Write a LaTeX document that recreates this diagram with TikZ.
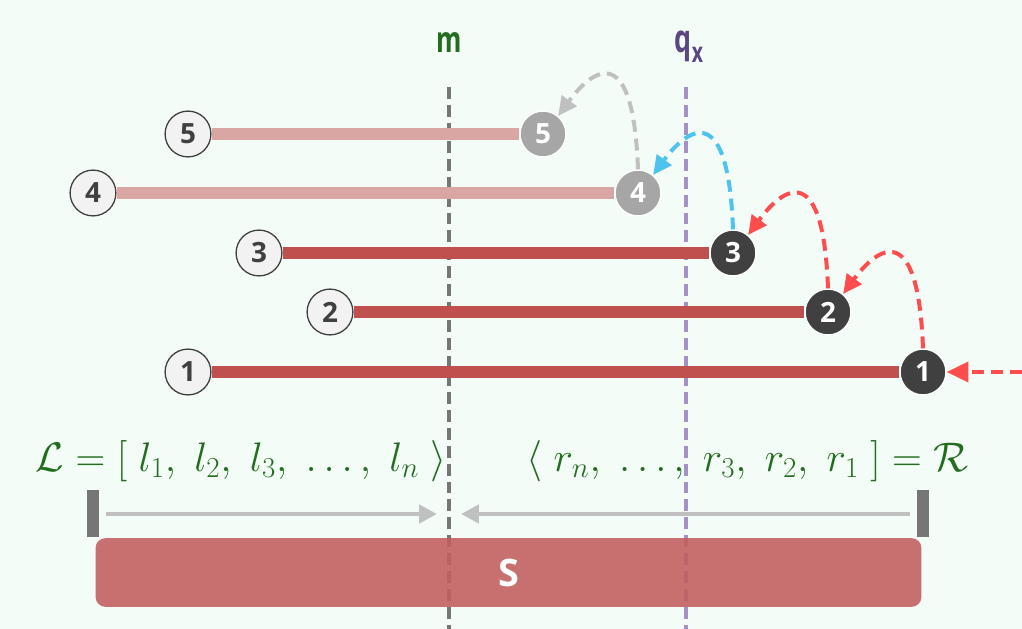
\RequirePackage{fix-cm}
\documentclass[tikz,border=0pt]{standalone}
\usepackage{fontspec}
\setsansfont{Open Sans}
\usetikzlibrary{arrows.meta}
\definecolor{bgmint}{RGB}{243,252,247}
\definecolor{darkdot}{RGB}{64,64,64}
\definecolor{greydot}{RGB}{166,166,166}
\definecolor{paledot}{RGB}{242,242,242}
\definecolor{segdark}{RGB}{192,80,77}
\definecolor{seglight}{RGB}{217,166,163}
\definecolor{hopred}{RGB}{255,76,76}
\definecolor{hopblue}{RGB}{79,195,240}
\definecolor{hopgrey}{RGB}{192,192,192}
\definecolor{mgreen}{RGB}{34,110,30}
\definecolor{qpurple}{RGB}{90,70,128}
\definecolor{qline}{RGB}{165,145,200}
\definecolor{mline}{RGB}{118,118,118}
\definecolor{sboxred}{RGB}{195,93,94}
\tikzset{lend/.style = {circle, draw = darkdot, line width = 1.3, fill = paledot,
                        minimum size = 46, inner sep = 0, text = darkdot,
                        font = \sffamily\bfseries\fontsize{28}{28}\selectfont}}
\tikzset{rend/.style = {lend, draw = white, fill = darkdot, text = white}}
\tikzset{rgrey/.style = {rend, fill = greydot}}
\tikzset{seg/.style = {line width = 12}}
\tikzset{hop/.style = {line width = 4, dash pattern = on 12 off 7,
                       -{Triangle[length = 19, width = 18]}}}
\tikzset{split/.style = {line width = 4, dash pattern = on 12 off 6}}
\tikzset{scan/.style = {line width = 5, hopgrey, -{Triangle[length = 18, width = 18]}}}
\tikzset{bar/.style = {fill = mline, minimum width = 12, minimum height = 47, inner sep = 0}}
\tikzset{seq/.style = {mgreen, inner sep = 0, font = \fontsize{29}{30}\selectfont}}
\tikzset{axlabel/.style = {inner sep = 0, font = \sffamily\bfseries\fontsize{36}{36}\selectfont}}

\begin{document}
\begin{tikzpicture}[x=1bp, y=-1bp]
      \useasboundingbox (0,0) rectangle (1022,629);
      \fill[bgmint] (0,0) rectangle (1022,629);

      % split lines
      \coordinate (mtop) at (449,87);   \coordinate (mbot) at (449,629);
      \coordinate (qtop) at (686,87);   \coordinate (qbot) at (686,629);
      \draw[split, mline] (mtop) -- (mbot);
      \draw[split, qline] (qtop) -- (qbot);
      \node[axlabel, mgreen, anchor = base] (mlab) at (449,53) {\scalebox{0.72}[1]{m}};
      \node[axlabel, qpurple, anchor = base] (qlab) at (689,53)
           {\scalebox{0.75}[1.08]{q\raisebox{-9bp}{\fontsize{26}{26}\selectfont x}}};

      % the set S
      \node[fill = sboxred, fill opacity = 0.88, text opacity = 1, text = white,
            rounded corners = 10, minimum width = 829, minimum height = 69,
            font = \sffamily\bfseries\fontsize{38}{38}\selectfont] (S) at (508.5,572.5) {S};
      \node[bar] (lbar) at (93,513.5) {};
      \node[bar] (rbar) at (923,513.5) {};
      \coordinate (mleft) at (437,514);
      \coordinate (mright) at (461,514);
      \draw[scan] ([xshift = 7]lbar.east |- mleft) -- (mleft);
      \draw[scan] ([xshift = -7]rbar.west |- mright) -- (mright);

      \node[seq, anchor = base east] (Lseq) at (447,471)
           {\scalebox{1.43}{$\mathcal{L} = [\; l_1,\; l_2,\; l_3,\; \ldots,\; l_n\;\rangle$}};
      \node[seq, anchor = base west] (Rseq) at (526,471)
           {\scalebox{1.43}{$\langle\; r_n,\; \ldots,\; r_3,\; r_2,\; r_1\;] = \mathcal{R}$}};

      % intervals
      \foreach \i/\xl/\xr/\y/\rs/\sc in {1/188/923/372/rend/segdark,
                                         2/330/828/312/rend/segdark,
                                         3/259/733/253/rend/segdark,
                                         4/93/638/193/rgrey/seglight,
                                         5/188/543/134/rgrey/seglight} {
        \node[lend] (l\i) at (\xl,\y) {\i};
        \node[\rs] (r\i) at (\xr,\y) {\i};
        \draw[seg, \sc] (l\i) -- (r\i);
      }

      % hops
      \coordinate (enter) at (1022,372);
      \draw[hop, hopred, -{Triangle[length = 22, width = 20]}] (enter) -- (r1);
      \draw[hop, hopred] (r1.north) .. controls +(-5,-138) and +(30,-41) .. (r2.50);
      \draw[hop, hopred] (r2.north) .. controls +(-5,-138) and +(30,-41) .. (r3.50);
      \draw[hop, hopblue] (r3.north) .. controls +(-5,-138) and +(30,-41) .. (r4.50);
      \draw[hop, hopgrey] (r4.north) .. controls +(-5,-138) and +(30,-41) .. (r5.50);
    \end{tikzpicture}
\end{document}
